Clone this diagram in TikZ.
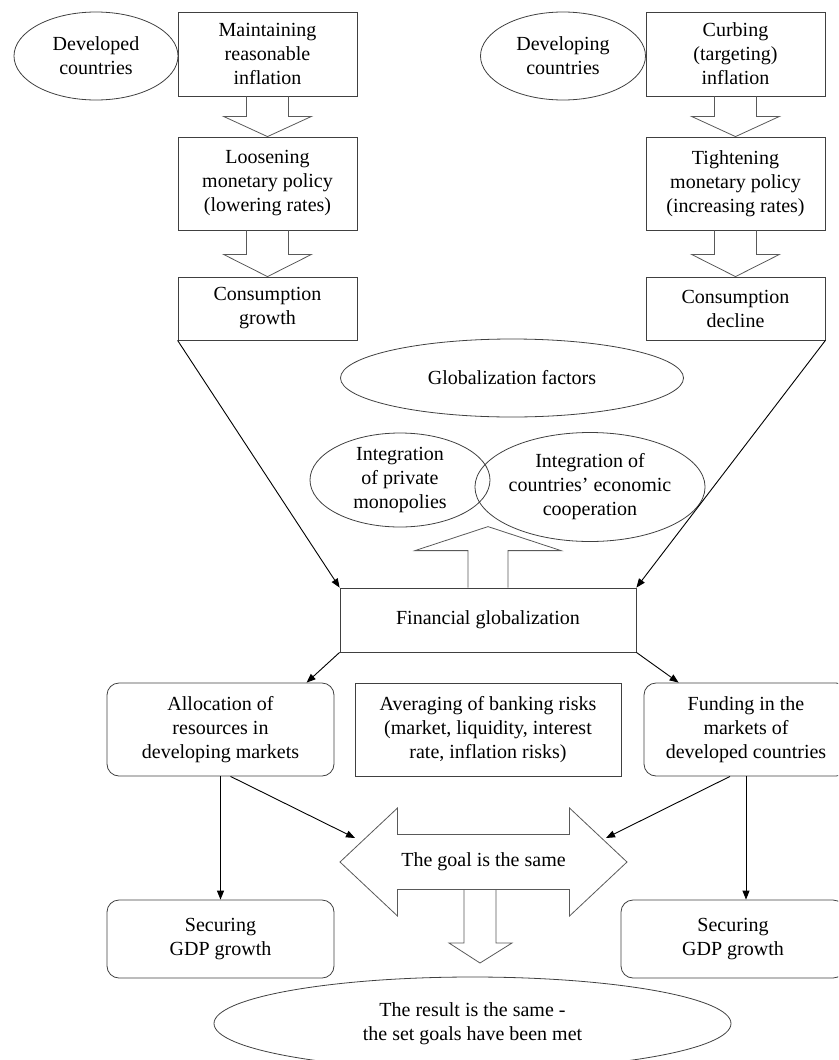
\documentclass[tikz,border=0pt]{standalone}
\usepackage{fontspec}
\setmainfont{Liberation Serif}
\usetikzlibrary{shapes.geometric,arrows.meta,calc}
\tikzset{
 base/.style={align=center, inner sep=0pt, font=\fontsize{20}{24}\selectfont},
 sqbox/.style={base, draw=black!75, line width=0.8pt, rectangle},
 rbox/.style={sqbox, rounded corners=12pt},
 oval/.style={base, draw=black!75, line width=0.8pt, ellipse},
 blockarr/.style={draw=black!65, line width=0.8pt, line join=miter},
 conn/.style={draw=black, line width=0.9pt, -{Triangle[length=9pt,width=7pt]}},
}
\newcommand{\dnblock}[3]{% top node, bottom node, shoulder depth
 \draw[blockarr] ($(#1.south)+(-21,0)$) -- ($(#1.south)+(-21,#3)$) -- ($(#1.south)+(-44,#3)$) -- (#2.north) -- ($(#1.south)+(44,#3)$) -- ($(#1.south)+(21,#3)$) -- ($(#1.south)+(21,0)$);}
\begin{document}
\begin{tikzpicture}[x=1pt,y=-1pt]
\useasboundingbox (0,0) rectangle (838,1060);
\clip (0,0) rectangle (838,1060);
% left column
\node[oval, minimum width=164pt, minimum height=88pt] (dev) at (96,56) {Developed\\countries};
\node[sqbox, minimum width=179pt, minimum height=84pt] (maint) at (267.5,54) {Maintaining\\reasonable\\inflation};
\node[sqbox, minimum width=179pt, minimum height=93pt] (loos) at (267.5,183.5) {Loosening\\monetary policy\\(lowering rates)};
\node[sqbox, minimum width=179pt, minimum height=63pt] (cgrow) at (267.5,308.5) {Consumption\\growth};
% right column
\node[oval, minimum width=165pt, minimum height=88pt] (dvg) at (563,56) {Developing\\countries};
\node[sqbox, minimum width=179pt, minimum height=84pt] (curb) at (735.5,54) {Curbing\\(targeting)\\inflation};
\node[sqbox, minimum width=179pt, minimum height=93pt] (tight) at (735.5,183.5) {Tightening\\monetary policy\\(increasing rates)};
\node[sqbox, minimum width=179pt, minimum height=63pt] (cdec) at (735.5,308.5) {Consumption\\decline};
\dnblock{maint}{loos}{20}
\dnblock{loos}{cgrow}{24}
\dnblock{curb}{tight}{20}
\dnblock{tight}{cdec}{24}
% globalization
\node[oval, minimum width=343pt, minimum height=78pt] (gf) at (512,378) {Globalization factors};
\node[oval, minimum width=180pt, minimum height=94pt] (ipm) at (400,480) {Integration\\of private\\monopolies};
\node[oval, minimum width=215pt, minimum height=109pt] (ice) at (590,487) {Integration of\\countries’ economic\\cooperation};
\node[sqbox, minimum width=296pt, minimum height=64pt] (fin) at (488,620) {Financial globalization};
\draw[blockarr] ($(fin.north)+(-20,0)$) -- ($(fin.north)+(-20,-37)$) -- ($(fin.north)+(-73,-37)$) -- ($(fin.north)+(0,-61)$) -- ($(fin.north)+(73,-37)$) -- ($(fin.north)+(20,-37)$) -- ($(fin.north)+(20,0)$);
\draw[conn] (cgrow.south west) -- (fin.north west);
\draw[conn] (cdec.south east) -- (fin.north east);
% lower part
\node[rbox, minimum width=227pt, minimum height=93pt] (alloc) at (220.5,729.5) {Allocation of\\resources in\\developing markets};
\node[sqbox, minimum width=266pt, minimum height=93pt] (avg) at (488,729.5) {Averaging of banking risks\\(market, liquidity, interest\\rate, inflation risks)};
\node[rbox, minimum width=204pt, minimum height=93pt] (fund) at (746,729.5) {Funding in the\\markets of\\developed countries};
\draw[conn] (fin.south west) -- ($(alloc.north west)+(200,0)$);
\draw[conn] (fin.south east) -- ($(fund.north west)+(35,0)$);
\node[base] (goal) at (483.5,862) {The goal is the same};
\draw[blockarr] ($(goal)+(-143.5,0)$) -- ($(goal)+(-86,-54)$) -- ($(goal)+(-86,-27.5)$) -- ($(goal)+(86,-27.5)$) -- ($(goal)+(86,-54)$) -- ($(goal)+(143.5,0)$) -- ($(goal)+(86,54)$) -- ($(goal)+(86,27.5)$) -- ($(goal)+(-86,27.5)$) -- ($(goal)+(-86,54)$) -- cycle;
\draw[blockarr] ($(goal)+(-19.5,27.5)$) -- ($(goal)+(-19.5,81)$) -- ($(goal)+(-34.5,81)$) -- ($(goal)+(-3.5,101)$) -- ($(goal)+(28.5,81)$) -- ($(goal)+(12.5,81)$) -- ($(goal)+(12.5,27.5)$);
\coordinate (gl) at ($(goal)+(-128.5,-24)$);
\coordinate (gr) at ($(goal)+(122.5,-24)$);
\node[rbox, minimum width=227pt, minimum height=78pt] (sec1) at (220.5,939) {Securing\\GDP growth};
\node[rbox, minimum width=224pt, minimum height=78pt] (sec2) at (733,939) {Securing\\GDP growth};
\draw[conn] (alloc.south) -- (sec1.north);
\draw[conn] ($(alloc.south)+(10,0)$) -- (gl);
\draw[conn] ($(fund.south)+(-16,0)$) -- (gr);
\draw[conn] (fund.south) -- (fund.south |- sec2.north);
\node[oval, minimum width=517pt, minimum height=93pt] (res) at (472.5,1023.5) {The result is the same -\\the set goals have been met};
\end{tikzpicture}
\end{document}
